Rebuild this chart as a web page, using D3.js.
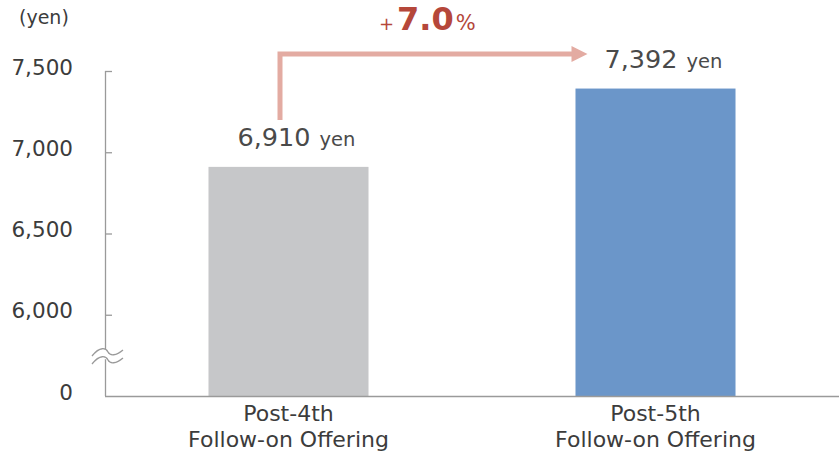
<!DOCTYPE html>
<html><head><meta charset="utf-8">
<script src="https://cdn.jsdelivr.net/npm/d3@7"></script>
<style>body{margin:0;background:#fff}svg{display:block}text{font-family:"DejaVu Sans",Verdana,sans-serif}</style>
</head><body>
<script>
const categories = ["Post-4th\nFollow-on Offering", "Post-5th\nFollow-on Offering"];
const values = [6910, 7392];
const valueLabels = ["6,910", "7,392"];
const tickValues = [5500, 6000, 6500, 7000, 7500];
const tickLabels = ["0", "6,000", "6,500", "7,000", "7,500"];
const growthLabel = "7.0";
const colors = ["#c6c7c9", "#6b96c9"];

const W = 839, H = 455;
const svg = d3.select("body").append("svg").attr("width", W).attr("height", H);
const x0 = 105, x1 = 839, yTop = 71, yBase = 396;
const y = d3.scaleLinear().domain([5500, 7500]).range([yBase, yTop]);
const x = d3.scaleBand().domain(categories).range([x0, x1]).paddingInner(0.564).paddingOuter(0.282);

// bars
svg.selectAll("rect.bar").data(values).join("rect")
  .attr("x", (d, i) => x(categories[i]))
  .attr("width", x.bandwidth())
  .attr("y", d => y(d))
  .attr("height", d => yBase - y(d))
  .attr("fill", (d, i) => colors[i]);

// y axis
const yAxis = d3.axisRight(y).tickValues(tickValues).tickSize(7).tickFormat("");
const ga = svg.append("g").attr("transform", `translate(${x0},0)`).call(yAxis);
ga.select(".domain").attr("stroke", "#9a9a9a").attr("stroke-width", 1.3).attr("d", `M0.5,${yTop}V${yBase}`);
ga.selectAll(".tick line").attr("stroke", "#9a9a9a").attr("stroke-width", 1.3)
  .filter(d => d === 5500).remove();
svg.selectAll("text.ytl").data(tickValues).join("text")
  .attr("x", 73).attr("y", d => y(d) + 3.5).attr("text-anchor", "end")
  .attr("font-size", 21.5).attr("fill", "#3c3c3c")
  .text((d, i) => tickLabels[i]);
svg.append("text").attr("x", 19).attr("y", 24).attr("font-size", 19).attr("fill", "#3c3c3c").text("(yen)");

// x axis line
svg.append("line").attr("x1", x0).attr("x2", x1).attr("y1", yBase + 0.5).attr("y2", yBase + 0.5)
  .attr("stroke", "#9a9a9a").attr("stroke-width", 1.3);

// axis break
const wave = (yy) => `M92,${yy + 4} C100,${yy - 6} 106,${yy - 4} 108,${yy} S116,${yy + 4} 123,${yy - 2}`;
const yb = 352;
svg.append("path").attr("d", wave(yb) + ` L123,${yb + 6} ` + `C116,${yb + 12} 110,${yb + 8} 108,${yb + 8} S100,${yb + 2} 92,${yb + 12} Z`)
  .attr("fill", "#fff");
svg.append("path").attr("d", wave(yb)).attr("fill", "none").attr("stroke", "#9a9a9a").attr("stroke-width", 1.3);
svg.append("path").attr("d", wave(yb + 8)).attr("fill", "none").attr("stroke", "#9a9a9a").attr("stroke-width", 1.3);

// x labels
categories.forEach((c, i) => {
  const t = svg.append("text").attr("text-anchor", "middle").attr("font-size", 22).attr("fill", "#3c3c3c");
  c.split("\n").forEach((line, j) => {
    t.append("tspan").attr("x", x(c) + x.bandwidth() / 2).attr("y", 421 + j * 26).text(line);
  });
});

// value labels
values.forEach((v, i) => {
  const t = svg.append("text").attr("text-anchor", "middle").attr("fill", "#4a4a4a")
    .attr("x", x(categories[i]) + x.bandwidth() / 2 + 8).attr("y", y(v) - 21);
  t.append("tspan").attr("font-size", 25.5).text(valueLabels[i]);
  t.append("tspan").attr("font-size", 19.5).attr("dx", 9).text("yen");
});

// arrow
const ax = 280, ay = 54;
const tip = x(categories[1]) + 12;
svg.append("path").attr("d", `M${ax},${y(values[0]) - 47} V${ay} H${tip - 14}`)
  .attr("fill", "none").attr("stroke", "#e3aba2").attr("stroke-width", 5);
svg.append("path").attr("d", `M${tip - 16},${ay - 8} L${tip},${ay} L${tip - 16},${ay + 8} Z`)
  .attr("fill", "#e3aba2");

const g = svg.append("text").attr("x", 379).attr("y", 30).attr("text-anchor", "start").attr("fill", "#b5473a");
g.append("tspan").attr("font-size", 18).text("+");
g.append("tspan").attr("font-size", 32).attr("font-weight", "bold").attr("dx", 3).text(growthLabel);
g.append("tspan").attr("font-size", 21).attr("dx", 2).text("%");
</script>
</body></html>
